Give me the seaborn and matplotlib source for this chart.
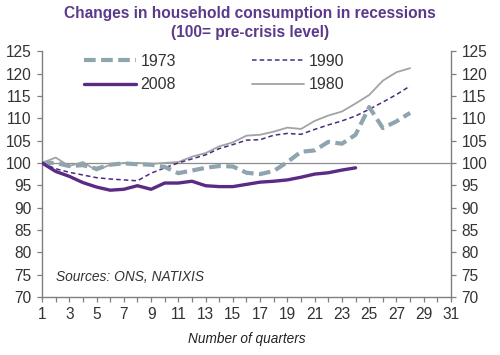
import numpy as np
import pandas as pd
import matplotlib
matplotlib.use("Agg")
import matplotlib.pyplot as plt
import seaborn as sns
from matplotlib.lines import Line2D

quarters = list(range(1, 29))
s1973 = [100, 100, 99.3, 99.5, 98.7, 99.6, 99.9, 99.7, 99.6, 99.1, 97.7, 98.3, 98.9, 99.3, 99.2,
         97.8, 97.5, 98.2, 100.2, 102.5, 102.8, 104.7, 104.3, 106.3, 112.5, 107.8, 109.3, 111.2]
s1990 = [100, 98.7, 97.9, 97.3, 96.7, 96.4, 96.2, 96.0, 97.7, 98.9, 100, 100.9, 101.8, 103.2, 104.1,
         105.1, 105.2, 106.2, 106.6, 106.4, 107.5, 108.5, 109.4, 110.5, 112.0, 113.6, 115.3, 117.2]
s1980 = [100, 101.2, 99.3, 100.2, 98.3, 99.6, 100, 100, 99.8, 100, 100.2, 101.4, 102.2, 103.7, 104.6,
         106.1, 106.3, 107.0, 107.9, 107.6, 109.4, 110.6, 111.5, 113.3, 115.2, 118.4, 120.3, 121.2]
q2008 = list(range(1, 25))
s2008 = [100, 98.1, 97.0, 95.6, 94.6, 93.9, 94.1, 94.9, 94.1, 95.5, 95.5, 95.9, 94.9, 94.7, 94.7,
         95.2, 95.7, 95.9, 96.2, 96.8, 97.5, 97.8, 98.4, 98.9]

x_ticks = list(range(1, 32, 2))
y_ticks = list(range(70, 126, 5))
title = "Changes in household consumption in recessions\n(100= pre-crisis level)"

sns.set_theme(style="white")
plt.rcParams['font.family'] = ['Liberation Sans', 'DejaVu Sans']

fig = plt.figure(figsize=(5, 3.55), dpi=100)
ax = fig.add_axes([0.084, 0.1634, 0.818, 0.6924])

c1973 = "#8FA4AE"
c1990 = "#4A2C7C"
c1980 = "#A3A3A3"
c2008 = "#5A2A84"

ax.axhline(100, color="#8C8C8C", lw=0.9, zorder=1)

df = pd.DataFrame({"q": quarters, "1973": s1973, "1990": s1990, "1980": s1980})
d08 = pd.DataFrame({"q": q2008, "2008": s2008})

sns.lineplot(data=df, x="q", y="1980", ax=ax, color=c1980, lw=1.3, zorder=2)
sns.lineplot(data=df, x="q", y="1990", ax=ax, color=c1990, lw=1.1, zorder=3)
ax.lines[-1].set_dashes([3, 2])
sns.lineplot(data=df, x="q", y="1973", ax=ax, color=c1973, lw=3.0, zorder=4)
ax.lines[-1].set_dashes([2.8, 1.3])
sns.lineplot(data=d08, x="q", y="2008", ax=ax, color=c2008, lw=2.4, zorder=5)

ax.set_xlim(1, 31)
ax.set_ylim(70, 125)
ax.set_xticks(range(1, 32))
ax.set_xticklabels([str(i) if i in x_ticks else "" for i in range(1, 32)])
ax.set_yticks(y_ticks)
ax.set_xlabel("Number of quarters", fontsize=9.8, style="italic", color="#222222", labelpad=7)
ax.set_ylabel("")

ax.spines["top"].set_visible(False)
for side in ["left", "right", "bottom"]:
    ax.spines[side].set_visible(True)
    ax.spines[side].set_color("#7F7F7F")
    ax.spines[side].set_linewidth(1.0)

ax.tick_params(axis="y", which="both", left=True, right=True, labelleft=True, labelright=True,
               direction="out", length=3.5, width=0.9, color="#7F7F7F", labelsize=11.2,
               labelcolor="#333333", pad=4)
ax.tick_params(axis="x", bottom=True, direction="out", length=3.5, width=0.9, color="#7F7F7F",
               labelsize=11.2, labelcolor="#333333", pad=3.8)

fig.suptitle(title, x=0.5, y=0.982, fontsize=11.2, fontweight="bold", color="#5B3A8C",
             linespacing=1.3)

ax.text(2.05, 74.5, "Sources: ONS, NATIXIS", fontsize=9.9, style="italic", color="#333333",
        va="center", ha="left")

h1973 = Line2D([], [], color=c1973, lw=3.0, dashes=[2.8, 1.3])
h2008 = Line2D([], [], color=c2008, lw=2.4)
h1990 = Line2D([], [], color=c1990, lw=1.1, dashes=[3, 2])
h1980 = Line2D([], [], color=c1980, lw=1.3)
fs_leg = 11.5
hl = 52 / (fs_leg * 100 / 72)
leg1 = ax.legend([h1973, h2008], ["1973", "2008"], loc="upper left",
                 bbox_to_anchor=(0.102, 0.99), frameon=False, fontsize=fs_leg,
                 handlelength=hl, handletextpad=0.3, labelspacing=0.55,
                 borderpad=0.0, borderaxespad=0.0, labelcolor="#333333")
ax.add_artist(leg1)
ax.legend([h1990, h1980], ["1990", "1980"], loc="upper left",
          bbox_to_anchor=(0.5135, 0.99), frameon=False, fontsize=fs_leg,
          handlelength=hl, handletextpad=0.3, labelspacing=0.55,
          borderpad=0.0, borderaxespad=0.0, labelcolor="#333333")

fig.savefig("out.png", dpi=100)
